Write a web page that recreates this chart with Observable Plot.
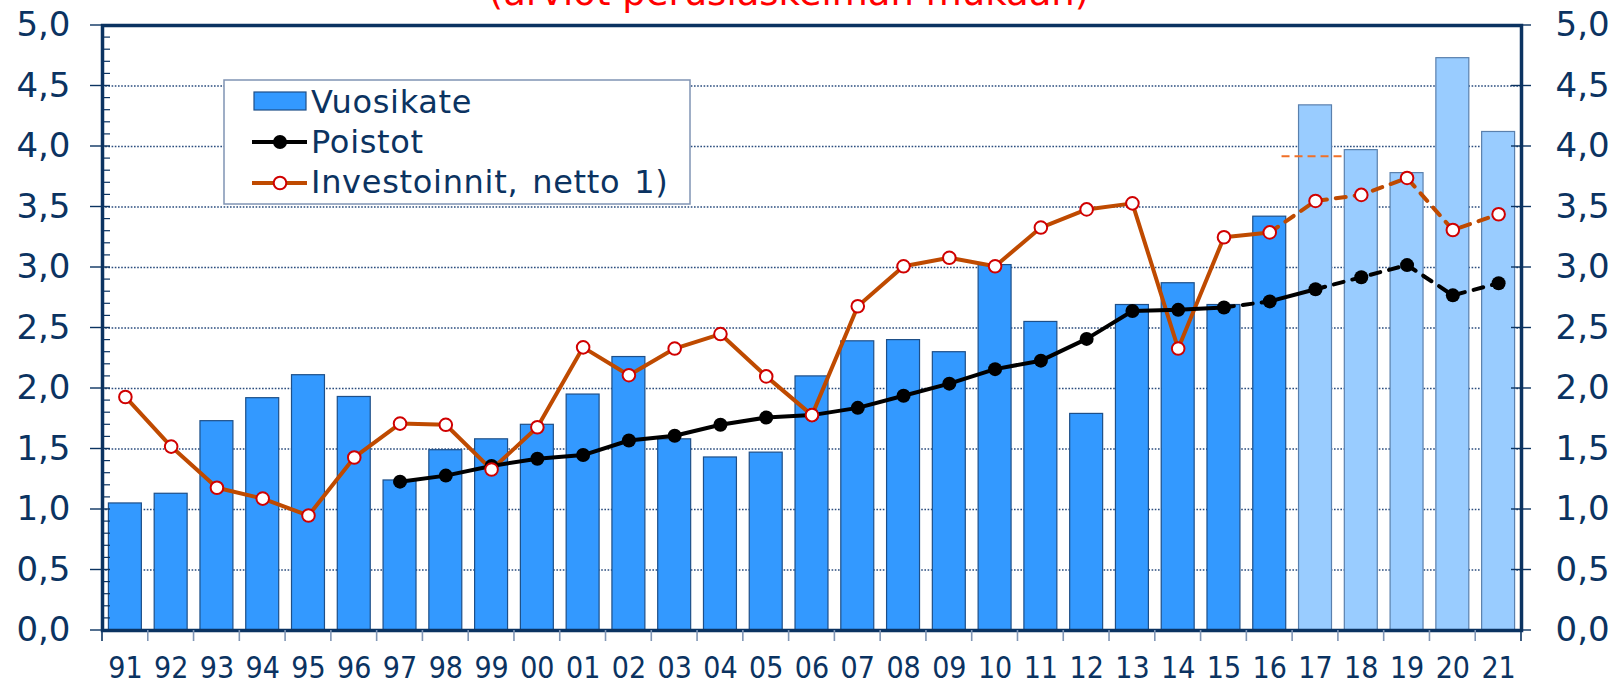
<!DOCTYPE html>
<html><head><meta charset="utf-8">
<script src="https://cdn.jsdelivr.net/npm/d3@7"></script>
<script src="https://cdn.jsdelivr.net/npm/@observablehq/plot@0.6"></script>
<style>
body{margin:0;background:#fff;overflow:hidden}
#chart{position:relative;width:1617px;height:683px}
</style>
</head><body><div id="chart"></div>
<script>
// ---- data ----
const years = ["91","92","93","94","95","96","97","98","99","00","01","02","03","04","05","06","07","08","09","10","11","12","13","14","15","16","17","18","19","20","21"];
const vuosikate = [1.05,1.13,1.73,1.92,2.11,1.93,1.24,1.49,1.58,1.70,1.95,2.26,1.58,1.43,1.47,2.10,2.39,2.40,2.30,3.02,2.55,1.79,2.69,2.87,2.69,3.42,4.34,3.97,3.78,4.73,4.12];
const poistot = [null,null,null,null,null,null,1.23,1.28,1.36,1.42,1.45,1.57,1.61,1.70,1.76,1.78,1.84,1.94,2.04,2.16,2.23,2.41,2.64,2.65,2.67,2.72,2.82,2.92,3.02,2.77,2.87];
const investoinnit = [1.93,1.52,1.18,1.09,0.95,1.43,1.71,1.70,1.33,1.68,2.34,2.11,2.33,2.45,2.10,1.78,2.68,3.01,3.08,3.01,3.33,3.48,3.53,2.33,3.25,3.29,3.55,3.60,3.74,3.31,3.44];
const forecastYears = ["17","18","19","20","21"];
const poistotSolid = [["97","15"],["16","17"]];
const poistotDashed = [["15","16"],["17","21"]];
const investSolid = [["91","16"]];
const investDashed = [["16","21"]];
const noteMark = [{year:"17", value:3.92}];
const majorTicks = [0,0.5,1,1.5,2,2.5,3,3.5,4,4.5,5];
const gridTicks = [0.5,1,1.5,2,2.5,3,3.5,4,4.5];
const minorTicks = d3.range(0, 50).map(i => i/10).filter(v => Math.round(v*10) % 5 !== 0);
const title = "(arviot peruslaskelman mukaan)";
const legendLabels = ["Vuosikate","Poistot","Investoinnit, netto 1)"];

// ---- styles ----
const navy = "#0b3361";
const barFill = "#3399ff", barStroke = "#1e4f88";
const fcFill = "#99ccff", fcStroke = "#5a80ad";
const orange = "#bf4a00", red = "#d00000";
const narrow = "'Liberation Sans Narrow', 'DejaVu Sans Condensed', 'Roboto Condensed', 'Open Sans Condensed', sans-serif";

const barRows = years.map((y,i) => ({year:y, value:vuosikate[i], forecast: forecastYears.includes(y)}));
function segRows(values, ranges){
  const rows = [];
  ranges.forEach(([a,b],k) => {
    const i0 = years.indexOf(a), i1 = years.indexOf(b);
    for(let i=i0;i<=i1;i++) if(values[i]!=null) rows.push({year:years[i], value:values[i], seg:k});
  });
  return rows;
}
const poRows = years.map((y,i)=>({year:y, value:poistot[i]})).filter(d=>d.value!=null);
const invRows = years.map((y,i)=>({year:y, value:investoinnit[i]}));
const fmt = d => d.toFixed(1).replace(".", ",");

const plot = Plot.plot({
  width:1617, height:683,
  marginTop:25, marginBottom:53, marginLeft:102, marginRight:96,
  style:{fontFamily:"DejaVu Sans", background:"#fff", overflow:"visible"},
  x:{domain:years, paddingInner:0.28, paddingOuter:0.14, round:false, axis:null, label:null},
  y:{domain:[0,5], axis:null, label:null},
  marks:[
    Plot.ruleY(gridTicks, {stroke:"#2a4c7d", strokeWidth:1.4, strokeDasharray:"1.6,1.6"}),
    Plot.barY(barRows, {x:"year", y:"value", fill:d=>d.forecast?fcFill:barFill, stroke:d=>d.forecast?fcStroke:barStroke, strokeWidth:1.2}),
    Plot.tickY(noteMark, {x:"year", y:"value", stroke:"#f07028", strokeWidth:2, strokeDasharray:"8,5", insetLeft:-17, insetRight:-11}),
    Plot.line(segRows(investoinnit, investSolid), {x:"year", y:"value", z:"seg", stroke:orange, strokeWidth:4}),
    Plot.line(segRows(investoinnit, investDashed), {x:"year", y:"value", z:"seg", stroke:orange, strokeWidth:4, strokeDasharray:"10,9"}),
    Plot.line(segRows(poistot, poistotSolid), {x:"year", y:"value", z:"seg", stroke:"#000", strokeWidth:4}),
    Plot.line(segRows(poistot, poistotDashed), {x:"year", y:"value", z:"seg", stroke:"#000", strokeWidth:4, strokeDasharray:"10,9"}),
    Plot.dot(poRows, {x:"year", y:"value", r:7, fill:"#000"}),
    Plot.dot(invRows, {x:"year", y:"value", r:6.3, fill:"#fff", stroke:red, strokeWidth:2}),
    Plot.frame({stroke:navy, strokeWidth:3.5}),
    Plot.axisY(majorTicks, {anchor:"left", label:null, tickSize:0, tickPadding:32, tickFormat:fmt, fontSize:34, fill:navy}),
    Plot.axisY(majorTicks, {anchor:"right", label:null, tickSize:0, tickPadding:34, tickFormat:fmt, fontSize:34, fill:navy}),
    Plot.axisX({label:null, tickSize:0, tickPadding:26, fontSize:30, fontFamily:narrow, fill:navy})
  ]
});
document.getElementById("chart").appendChild(plot);

// ---- ticks, title, legend ----
const svg = d3.select(plot);
const xs = plot.scale("x"), ys = plot.scale("y");
const gap = (xs.step - xs.bandwidth)/2;
const left = 102, right = 1521, bottom = ys.apply(0);
const tg = svg.append("g");
years.forEach((y,i) => {
  const bx = xs.apply(y) - gap;
  tg.append("line").attr("x1",bx).attr("x2",bx).attr("y1",bottom).attr("y2",bottom+11)
    .attr("stroke", i===0?navy:"#7f95b5").attr("stroke-width",1.6);
});
{
  const bx = xs.apply(years[years.length-1]) + xs.bandwidth + gap;
  tg.append("line").attr("x1",bx).attr("x2",bx).attr("y1",bottom).attr("y2",bottom+11).attr("stroke",navy).attr("stroke-width",1.6);
}
majorTicks.forEach(v => {
  const yy = ys.apply(v);
  tg.append("line").attr("x1",left-12).attr("x2",left+8).attr("y1",yy).attr("y2",yy).attr("stroke",navy).attr("stroke-width",1.4);
  tg.append("line").attr("x1",right-10).attr("x2",right+10).attr("y1",yy).attr("y2",yy).attr("stroke",navy).attr("stroke-width",1.4);
});
minorTicks.forEach(v => {
  const yy = ys.apply(v);
  tg.append("line").attr("x1",left).attr("x2",left+8).attr("y1",yy).attr("y2",yy).attr("stroke",navy).attr("stroke-width",1.2);
});

svg.append("text").attr("x",789).attr("y",5).attr("text-anchor","middle")
  .attr("font-family","DejaVu Sans").attr("font-size",37).attr("fill","#ff0000").text(title);

const lg = svg.append("g").attr("text-anchor","start");
lg.append("rect").attr("x",224).attr("y",80).attr("width",466).attr("height",124)
  .attr("fill","#fff").attr("stroke","#8094b4").attr("stroke-width",1.5);
lg.append("rect").attr("x",254).attr("y",92).attr("width",52).attr("height",18)
  .attr("fill",barFill).attr("stroke",barStroke).attr("stroke-width",1.2);
lg.append("line").attr("x1",252).attr("x2",307).attr("y1",142).attr("y2",142).attr("stroke","#000").attr("stroke-width",4);
lg.append("circle").attr("cx",280).attr("cy",142).attr("r",7).attr("fill","#000");
lg.append("line").attr("x1",252).attr("x2",307).attr("y1",183).attr("y2",183).attr("stroke",orange).attr("stroke-width",4);
lg.append("circle").attr("cx",280).attr("cy",183).attr("r",6.3).attr("fill","#fff").attr("stroke",red).attr("stroke-width",2);
[112.7,152.7,192.7].forEach((by,i) => {
  lg.append("text").attr("x",311).attr("y",by).attr("text-anchor","start").attr("font-family","DejaVu Sans").attr("font-size",32)
    .attr("letter-spacing",0.7).attr("word-spacing",3)
    .attr("fill",navy).text(legendLabels[i]);
});
</script>
</body></html>
